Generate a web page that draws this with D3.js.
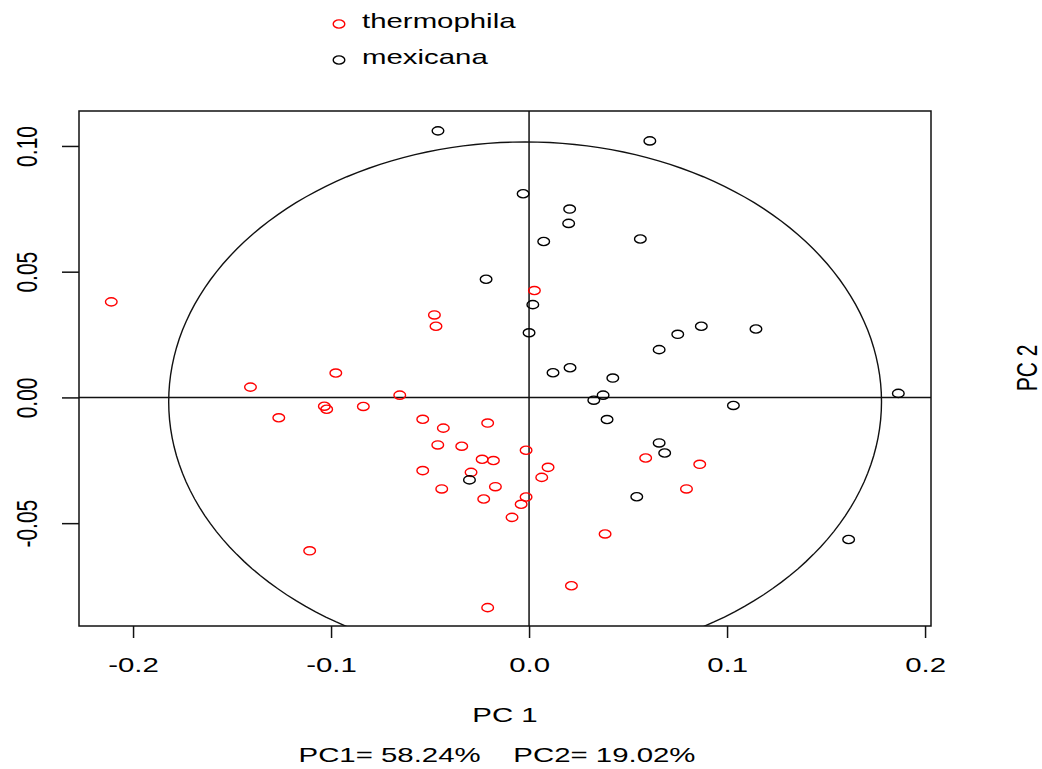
<!DOCTYPE html>
<html>
<head>
<meta charset="utf-8">
<script src="https://d3js.org/d3.v7.min.js"></script>
<style>
  body { margin: 0; background: #fff; }
  svg { display: block; }
  text { font-family: "Liberation Sans", Arial, sans-serif; fill: #000; }
</style>
</head>
<body>
<svg id="chart" width="1042" height="769"></svg>
<script>
// ---- data ----
const seriesNames = ["thermophila", "mexicana"];
const seriesColors = ["#ff0000", "#000000"];

const thermophilaPC1 = [-0.211, -0.0478, -0.047, -0.0976, -0.1407, -0.0653, -0.1034, -0.1022, -0.0837, -0.1264,
  -0.0537, -0.0209, -0.0433, -0.0461, -0.034, -0.0015, -0.0237, -0.018, -0.0537, -0.0293,
  0.0027, 0.0589, 0.0862, 0.0096, 0.0064, -0.0015, -0.004, 0.0795, 0.0384, 0.0214,
  -0.017, -0.0441, -0.0229, -0.0086, -0.1108, -0.0209];
const thermophilaPC2 = [0.038, 0.0328, 0.0283, 0.0097, 0.0041, 0.0009, -0.0035, -0.0047, -0.0036, -0.0081,
  -0.0087, -0.0102, -0.0122, -0.0189, -0.0194, -0.021, -0.0246, -0.0251, -0.0291, -0.0298,
  0.0425, -0.0241, -0.0266, -0.0278, -0.0318, -0.0396, -0.0425, -0.0364, -0.0543, -0.0749,
  -0.0355, -0.0364, -0.0404, -0.0477, -0.061, -0.0836];

const mexicanaPC1 = [-0.046, -0.003, -0.0217, 0.061, 0.0205, 0.02, 0.0074, 0.0562, 0.0019, 0.0,
  0.0121, 0.0207, 0.0423, 0.0657, 0.0751, 0.087, 0.1146, 0.1865, 0.0374, 0.0327,
  0.0394, 0.1032, 0.0657, 0.0685, 0.0544, 0.1614, -0.0301];
const mexicanaPC2 = [0.106, 0.081, 0.047, 0.102, 0.0749, 0.0692, 0.062, 0.063, 0.0369, 0.0257,
  0.0098, 0.0118, 0.0077, 0.019, 0.0251, 0.0283, 0.0272, 0.0016, 0.0009, -0.0011,
  -0.0088, -0.0032, -0.0181, -0.0221, -0.0395, -0.0565, -0.0328];

const xTicks = [-0.2, -0.1, 0.0, 0.1, 0.2];
const xTickLabels = ["-0.2", "-0.1", "0.0", "0.1", "0.2"];
const yTicks = [-0.05, 0.0, 0.05, 0.10];
const yTickLabels = ["-0.05", "0.00", "0.05", "0.10"];
const xTitle = "PC 1";
const yTitle = "PC 2";
const subtitle = "PC1= 58.24%    PC2= 19.02%";
const ellipseCenter = [-0.002, -0.0017];
const ellipseRadii = [0.18, 0.1033];

// ---- layout ----
const svg = d3.select("#chart");
const box = { left: 79, right: 931, top: 111, bottom: 626 };
const SX = 1.4; // horizontal stretch of the original rendering
const FS = 21;

const x = d3.scaleLinear().domain([-0.2273, 0.2030]).range([box.left, box.right]);
const y = d3.scaleLinear().domain([-0.0909, 0.1139]).range([box.bottom, box.top]);

const plot = svg.append("g");
plot.append("clipPath").attr("id", "clip")
  .append("rect").attr("x", box.left).attr("y", box.top)
  .attr("width", box.right - box.left).attr("height", box.bottom - box.top);

const inner = plot.append("g").attr("clip-path", "url(#clip)");

// ellipse ("circle") of equilibrium
const ell = d3.range(0, 361, 2).map(a => [
  ellipseCenter[0] + ellipseRadii[0] * Math.cos(a * Math.PI / 180),
  ellipseCenter[1] + ellipseRadii[1] * Math.sin(a * Math.PI / 180)]);
inner.append("path")
  .attr("d", d3.line().x(d => x(d[0])).y(d => y(d[1]))(ell))
  .attr("fill", "none").attr("stroke", "#111").attr("stroke-width", 1.4);

// zero lines
inner.append("line").attr("x1", x(0)).attr("x2", x(0)).attr("y1", box.top).attr("y2", box.bottom)
  .attr("stroke", "#111").attr("stroke-width", 1.5);
inner.append("line").attr("x1", box.left).attr("x2", box.right).attr("y1", y(0)).attr("y2", y(0))
  .attr("stroke", "#111").attr("stroke-width", 1.5);

// points
const seriesData = [
  thermophilaPC1.map((v, i) => [v, thermophilaPC2[i]]),
  mexicanaPC1.map((v, i) => [v, mexicanaPC2[i]])
];
seriesData.forEach((pts, si) => {
  inner.append("g").selectAll("ellipse").data(pts).join("ellipse")
    .attr("cx", d => x(d[0])).attr("cy", d => y(d[1]))
    .attr("rx", 5.8).attr("ry", 4.1)
    .attr("fill", "none").attr("stroke", seriesColors[si]).attr("stroke-width", 1.4);
});

// box
plot.append("rect").attr("x", box.left).attr("y", box.top)
  .attr("width", box.right - box.left).attr("height", box.bottom - box.top)
  .attr("fill", "none").attr("stroke", "#111").attr("stroke-width", 1.5);

// x axis
const xAxis = d3.axisBottom(x).tickValues(xTicks).tickSize(12).tickFormat((d, i) => xTickLabels[i]);
const gx = svg.append("g").attr("transform", `translate(0,${box.bottom})`).call(xAxis);
gx.select(".domain").remove();
gx.selectAll(".tick line").attr("stroke", "#111").attr("stroke-width", 1.5);
gx.selectAll(".tick text").remove();
gx.selectAll(".tick").append("text")
  .attr("transform", `translate(0,46) scale(${SX},1)`)
  .attr("text-anchor", "middle").style("font-size", FS + "px")
  .text((d, i) => xTickLabels[i]);

// y axis
const yAxis = d3.axisLeft(y).tickValues(yTicks).tickSize(17).tickFormat((d, i) => yTickLabels[i]);
const gy = svg.append("g").attr("transform", `translate(${box.left},0)`).call(yAxis);
gy.select(".domain").remove();
gy.selectAll(".tick line").attr("stroke", "#111").attr("stroke-width", 1.5);
gy.selectAll(".tick text").remove();
gy.selectAll(".tick").append("text")
  .attr("transform", `translate(${37 - box.left},0) scale(${SX},1) rotate(-90)`)
  .attr("text-anchor", "middle").style("font-size", FS + "px")
  .text((d, i) => yTickLabels[i]);

// titles
svg.append("text").attr("transform", `translate(${(box.left + box.right) / 2},722) scale(${SX},1)`)
  .attr("text-anchor", "middle").style("font-size", FS + "px").text(xTitle);
svg.append("text").attr("transform", `translate(${(box.left + box.right) / 2 - 8},762) scale(${SX},1)`)
  .attr("text-anchor", "middle").style("font-size", FS + "px").style("white-space", "pre").text(subtitle);
svg.append("text").attr("transform", `translate(1037,368) scale(${SX},1) rotate(-90)`)
  .attr("text-anchor", "middle").style("font-size", FS + "px").text(yTitle);

// legend
const legendY = [24, 60];
const leg = svg.append("g");
seriesNames.forEach((name, i) => {
  leg.append("ellipse").attr("cx", 339).attr("cy", legendY[i]).attr("rx", 5.8).attr("ry", 4.1)
    .attr("fill", "none").attr("stroke", seriesColors[i]).attr("stroke-width", 1.4);
  leg.append("text").attr("transform", `translate(362,${legendY[i] + 4}) scale(${SX},1)`)
    .style("font-size", FS + "px").text(name);
});
</script>
</body>
</html>
